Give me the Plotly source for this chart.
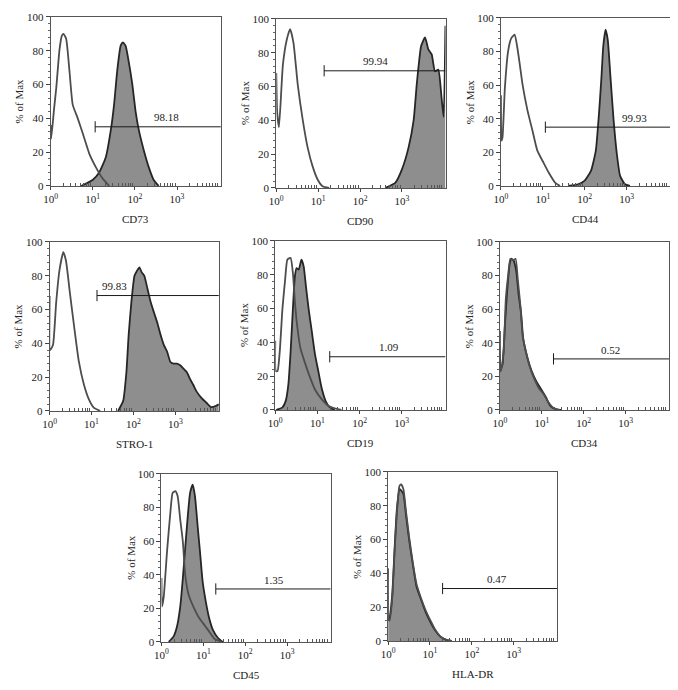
import math
import plotly.graph_objects as go

# ---------------- data (fluorescence intensity, % of Max) ----------------
markers = ["CD73", "CD90", "CD44", "STRO-1", "CD19", "CD34", "CD45", "HLA-DR"]
gate_values = ["98.18", "99.94", "99.93", "99.83", "1.09", "0.52", "1.35", "0.47"]
gate_start = [11.4, 13.9, 11.5, 13.5, 19.6, 19.0, 19.8, 20.0]
gate_level = [35.0, 69.3, 35.0, 68.3, 31.5, 30.4, 31.5, 31.0]
label_x = [575, 240, 1560, 36, 490, 433, 486, 408]

x_tick_vals = [1, 10, 100, 1000]
x_tick_text = ["10<sup>0</sup>", "10<sup>1</sup>", "10<sup>2</sup>", "10<sup>3</sup>"]
y_tick_vals = [0, 20, 40, 60, 80, 100]

cd73_iso_x = [1, 1.03, 1.2, 1.36, 1.63, 1.85, 2.02, 2.34, 2.8, 3.35, 4.4, 5.8, 8.3, 11.9, 17, 24.5]
cd73_iso_y = [36, 28, 45, 58, 81, 89, 90, 87, 68, 48, 40, 31, 19, 11, 4.5, 0]
cd73_pos_x = [5.3, 9.9, 14.2, 20.4, 26.8, 32, 38, 46, 52, 60, 72, 87, 104, 124, 163, 214, 280, 366]
cd73_pos_y = [0, 3.5, 8, 17, 33, 48, 68, 83, 85, 83, 73, 60, 44, 33, 21, 11, 3.5, 0]

cd90_iso_x = [1, 1.05, 1.16, 1.44, 1.79, 2.14, 2.57, 3.26, 4.3, 5.6, 7.4, 9.7, 12.7, 18.3]
cd90_iso_y = [68, 45, 36, 73, 88, 94, 86, 61, 40, 24, 12.6, 5, 1, 0]
cd90_pos_x = [400, 690, 1000, 1440, 1900, 2250, 2470, 2870, 3560, 4270, 5130, 6150, 7380, 8850, 9900, 10900]
cd90_pos_y = [0, 3, 11, 24, 40, 61, 71, 84, 89, 82, 79, 69, 70, 53, 42, 96]

cd44_iso_x = [1, 1.03, 1.09, 1.24, 1.48, 1.77, 2.12, 2.44, 2.76, 3.3, 4.3, 5.65, 7.4, 10.5, 13.8, 19.6, 25.7]
cd44_iso_y = [54, 27, 29, 58, 80, 88, 90, 83, 74, 60, 45, 33, 21, 13.6, 8, 2, 0]
cd44_pos_x = [40, 69, 98, 141, 184, 219, 250, 277, 315, 355, 409, 490, 585, 700, 915, 1200]
cd44_pos_y = [0, 1, 3, 9, 21, 43, 64, 83, 93, 87, 66, 39, 19, 6, 1, 0]

stro1_iso_x = [1, 1.03, 1.2, 1.43, 1.71, 2.12, 2.45, 3.04, 3.84, 5.0, 6.6, 8.6, 11.3, 16.1]
stro1_iso_y = [68, 36, 39, 64, 83, 94, 89, 70, 50, 29, 15.5, 7, 2, 0]
stro1_pos_x = [43, 57, 68, 77, 89, 106, 122, 139, 158, 182, 218, 261, 312, 373, 446, 534, 639,
               764, 914, 1093, 1308, 1564, 1872, 2240, 2680, 3205, 4190, 5480, 7170, 9380, 10900]
stro1_pos_y = [0, 6, 23, 45, 64, 80, 83, 85, 82, 80, 72, 64, 58, 52, 45, 39, 35,
               29, 28, 28, 27, 25, 23, 19, 15.5, 11.6, 7.8, 5, 2.3, 3, 4]

cd19_iso_x = [1, 1.03, 1.13, 1.28, 1.48, 1.71, 1.94, 2.31, 2.62, 2.92, 3.3, 3.95, 5.2, 6.75, 8.8, 12.6, 18, 25.7, 37]
cd19_iso_y = [41, 23, 23, 35, 60, 77, 89, 90, 81, 64, 50, 36.5, 27, 19, 12, 6.4, 2.5, 1, 0]
cd19_pos_x = [1.04, 1.48, 1.77, 2.04, 2.31, 2.62, 2.92, 3.19, 3.6, 4.17, 4.72, 5.35, 6.17, 7.4, 8.8, 10.5, 12.6, 15.6, 19.6, 25.7]
cd19_pos_y = [0, 1.5, 5.4, 15, 34.5, 60, 79, 84, 83, 89, 85, 73, 60, 46, 32.6, 23, 13, 5.4, 1.5, 0]

cd34_iso_x = [1, 1.03, 1.09, 1.24, 1.38, 1.56, 1.77, 2.04, 2.36, 2.67, 3.08, 3.48, 4.17, 4.98, 6.5, 8.5, 11.1, 14.5, 19, 27]
cd34_iso_y = [47, 23, 25, 36.6, 66, 79.5, 90, 89, 90, 77.6, 62, 44, 34.7, 27, 19, 13, 9.4, 4.5, 1.2, 0]
cd34_pos_x = [1, 1.15, 1.31, 1.48, 1.71, 1.87, 2.12, 2.44, 2.81, 3.19, 3.6, 4.55, 5.75, 7.4, 9.8, 12.6, 15.9, 20.8, 29.7]
cd34_pos_y = [23, 27, 50, 70, 87, 90, 89, 83, 68, 58, 42.5, 31, 23, 17, 12, 7.4, 2.5, 0.6, 0]

cd45_iso_x = [1, 1.03, 1.13, 1.36, 1.63, 1.85, 2.14, 2.43, 2.8, 3.24, 3.68, 4.4, 5.8, 7.6, 9.9, 13, 18.7, 27]
cd45_iso_y = [38, 21, 26.6, 54, 77, 88.7, 89.7, 86.8, 73, 59.6, 40, 28.5, 20.8, 15, 11, 7, 1.7, 0]
cd45_pos_x = [1.49, 1.95, 2.34, 2.8, 3.24, 3.68, 4.25, 4.82, 5.57, 6.3, 7.3, 8.3, 9.6, 11.3, 13.5, 17, 22.4, 29]
cd45_pos_y = [0, 3.3, 9, 20.8, 38, 55.7, 75, 88.7, 93.6, 86.8, 69, 53.8, 36, 24.7, 15, 7, 2.3, 0]

hladr_iso_x = [1, 1.03, 1.09, 1.26, 1.43, 1.62, 1.87, 2.05, 2.32, 2.69, 3.21, 3.85, 4.77, 6.0, 7.9, 10.3, 13.5, 17.7, 25, 33]
hladr_iso_y = [43, 13, 12, 25.8, 53, 76, 91.7, 92.6, 89.7, 76, 60.7, 47, 33.5, 25.8, 18, 12, 6.4, 2.5, 0.6, 0]
hladr_pos_x = [1, 1.09, 1.26, 1.43, 1.62, 1.87, 2.05, 2.32, 2.69, 3.21, 3.85, 4.77, 6.0, 7.9, 10.3, 13.5, 17.7, 25, 33]
hladr_pos_y = [12, 14, 28, 55, 78, 90, 89, 87, 74, 59, 46, 32, 25, 17, 11, 6, 2.5, 0.5, 0]

iso_x = [cd73_iso_x, cd90_iso_x, cd44_iso_x, stro1_iso_x, cd19_iso_x, cd34_iso_x, cd45_iso_x, hladr_iso_x]
iso_y = [cd73_iso_y, cd90_iso_y, cd44_iso_y, stro1_iso_y, cd19_iso_y, cd34_iso_y, cd45_iso_y, hladr_iso_y]
pos_x = [cd73_pos_x, cd90_pos_x, cd44_pos_x, stro1_pos_x, cd19_pos_x, cd34_pos_x, cd45_pos_x, hladr_pos_x]
pos_y = [cd73_pos_y, cd90_pos_y, cd44_pos_y, stro1_pos_y, cd19_pos_y, cd34_pos_y, cd45_pos_y, hladr_pos_y]

# ---------------- layout (screen-pixel boxes of each plot area) ----------------
W, H = 678, 690
OFF = 8  # the page body margin shifts the figure by 8 px
boxes = [  # left, right, top, bottom
    (44, 216, 11, 183), (272, 443, 13, 185), (499, 670, 12, 183),
    (43, 214, 240, 412), (271, 443, 239, 411), (498, 669, 240, 411),
    (156, 327, 476, 647), (385, 556, 474, 646),
]
X_MAX_DEC = 4.04
FONT = "Liberation Serif"
TXT = "#222"
minor_x = [m * 10 ** k for k in range(4) for m in range(2, 10)]


def px(v):
    return (v - OFF) / W


def py(v):
    return 1 - (v - OFF) / H


fig = go.Figure()
annotations = []
layout = dict(
    width=W, height=H, margin=dict(l=0, r=0, t=0, b=0),
    paper_bgcolor="white", plot_bgcolor="white", showlegend=False,
    font=dict(family=FONT, size=11, color=TXT),
)

for i in range(8):
    n = i + 1
    xa = "x" if n == 1 else f"x{n}"
    ya = "y" if n == 1 else f"y{n}"
    l, r, t, b = boxes[i]
    # filled (stained) histogram
    fig.add_trace(go.Scatter(
        x=pos_x[i], y=pos_y[i], xaxis=xa, yaxis=ya, mode="lines",
        line=dict(color="#262626", width=1.8, shape="spline", smoothing=0.5),
        fill="tozeroy", fillcolor="#8e8e8e", hoverinfo="skip"))
    # open (isotype) histogram
    fig.add_trace(go.Scatter(
        x=iso_x[i], y=iso_y[i], xaxis=xa, yaxis=ya, mode="lines",
        line=dict(color="#4d4d4d", width=1.8, shape="spline", smoothing=0.5),
        hoverinfo="skip"))
    # gate bar
    fig.add_trace(go.Scatter(
        x=[gate_start[i], 10 ** X_MAX_DEC], y=[gate_level[i], gate_level[i]],
        xaxis=xa, yaxis=ya, mode="lines", line=dict(color="#1a1a1a", width=1),
        hoverinfo="skip"))
    fig.add_trace(go.Scatter(
        x=[gate_start[i]], y=[gate_level[i]], xaxis=xa, yaxis=ya, mode="markers",
        marker=dict(symbol="line-ns", size=8, line=dict(color="#1a1a1a", width=1)),
        hoverinfo="skip"))
    annotations.append(dict(
        x=math.log10(label_x[i]), y=gate_level[i] + 0.8, xref=xa, yref=ya,
        text=gate_values[i], showarrow=False, yanchor="bottom", xanchor="center",
        font=dict(family=FONT, size=11, color=TXT)))

    layout["xaxis" if n == 1 else f"xaxis{n}"] = dict(
        domain=[px(l), px(r)], anchor=ya, type="log", range=[0, X_MAX_DEC],
        tickvals=x_tick_vals, ticktext=x_tick_text, ticks="outside", ticklen=3,
        tickcolor="#444", showline=True, linecolor="#555", linewidth=1, mirror=True,
        showgrid=False, zeroline=False, fixedrange=True,
        minor=dict(tickvals=minor_x, ticks="inside", ticklen=3, tickcolor="#555"),
        tickfont=dict(family=FONT, size=11, color=TXT))
    layout["yaxis" if n == 1 else f"yaxis{n}"] = dict(
        domain=[py(b), py(t)], anchor=xa, range=[0, 100],
        tickvals=y_tick_vals, ticks="outside", ticklen=4, tickcolor="#444",
        showline=True, linecolor="#555", linewidth=1, mirror=True,
        showgrid=False, zeroline=False, fixedrange=True,
        minor=dict(dtick=4, ticks="outside", ticklen=2, tickcolor="#666"),
        tickfont=dict(family=FONT, size=11, color=TXT))

    # axis titles
    annotations.append(dict(
        x=px((l + r) / 2), y=py(b + 34), xref="paper", yref="paper",
        text=markers[i], showarrow=False, xanchor="center", yanchor="middle",
        font=dict(family=FONT, size=11, color=TXT)))
    annotations.append(dict(
        x=px(l - 31), y=py((t + b) / 2), xref="paper", yref="paper",
        text="% of Max", textangle=-90, showarrow=False, xanchor="center",
        yanchor="middle", font=dict(family=FONT, size=11, color=TXT)))

layout["annotations"] = annotations
fig.update_layout(**layout)
fig.write_html("out.html")
